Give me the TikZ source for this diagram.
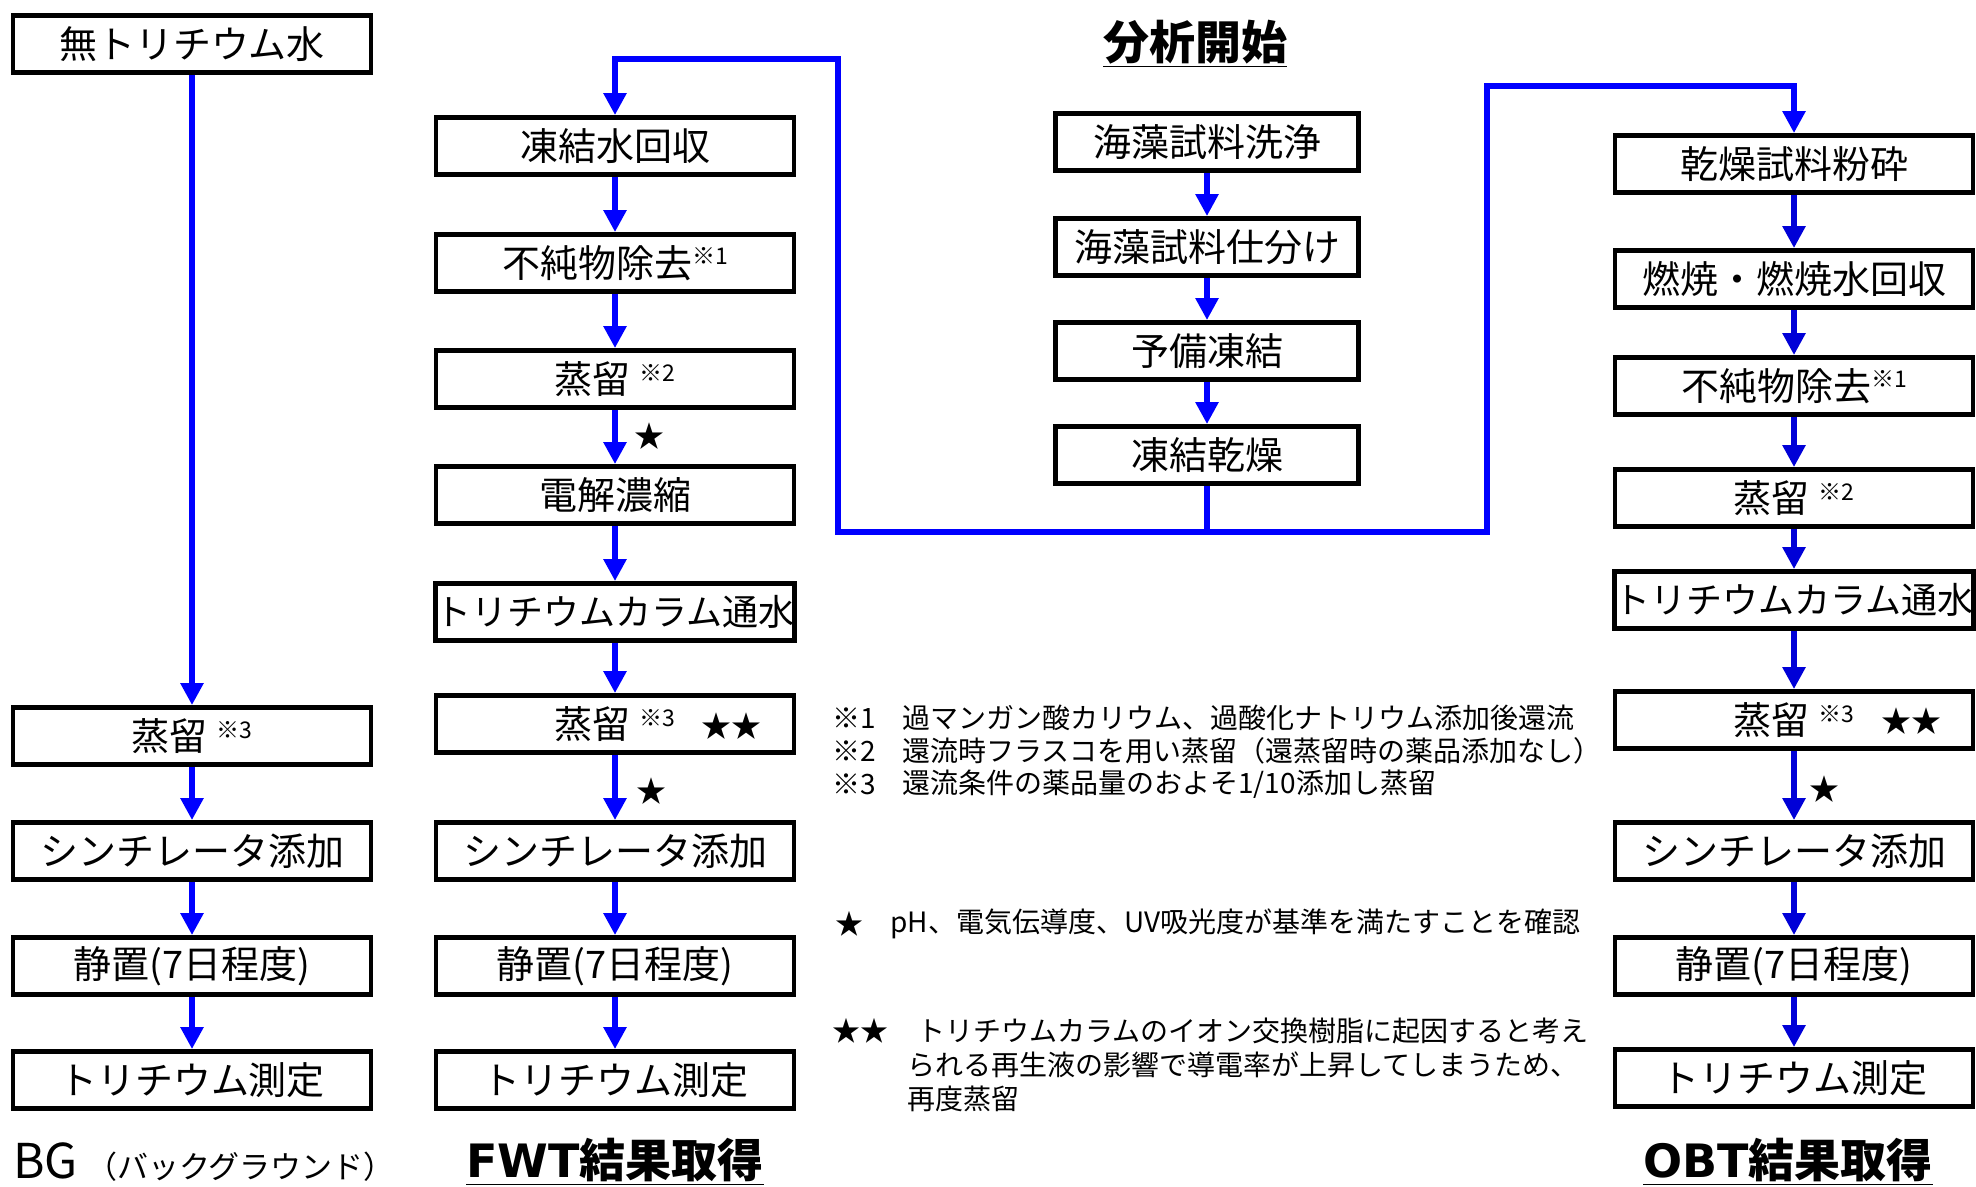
\documentclass[tikz,border=0pt]{standalone}
\usepackage{fontspec}
\setmainfont{Noto Sans CJK JP}
\newfontfamily\verd{DejaVu Sans}
\usetikzlibrary{arrows.meta}
\definecolor{flowblue}{RGB}{0,0,255}
\definecolor{obtblue}{RGB}{0,0,215}
\newcommand{\kome}[1]{\raisebox{0.6ex}{\fontsize{11.5pt}{11.5pt}\selectfont ※#1}}

\begin{document}
\begin{tikzpicture}[x=0.5pt,y=-0.5pt,
	box/.style={draw=black,line width=2.4pt,fill=white,inner sep=0pt,minimum width=179pt,minimum height=28.5pt,font=\fontsize{19pt}{21pt}\selectfont},
	cbox/.style={box,minimum width=151.5pt},
	flow/.style={flowblue,line width=3pt,-{Triangle[width=11pt,length=11pt]}},
	oflow/.style={flow,obtblue},
	link/.style={flowblue,line width=3pt},
	note/.style={anchor=west,inner sep=0pt,font=\fontsize{14pt}{17pt}\selectfont},
	star/.style={inner sep=0pt,font=\fontsize{15pt}{15pt}\selectfont},
	head/.style={inner sep=0pt,font=\fontsize{23pt}{25pt}\selectfont\bfseries}]
	\useasboundingbox (0,0) rectangle (1976,1187);
	\node[box] (bgw) at (192,44) {無トリチウム水};
	\node[box] (bgdist) at (192,736) {蒸留 \kome{3}};
	\node[box] (bgscint) at (192,851) {シンチレータ添加};
	\node[box] (bgrest) at (192,966) {静置(7日程度)};
	\node[box] (bgmeas) at (192,1080) {トリチウム測定};
	\draw[flow] (bgw) -- (bgdist);
	\draw[flow] (bgdist) -- (bgscint);
	\draw[flow] (bgscint) -- (bgrest);
	\draw[flow] (bgrest) -- (bgmeas);
	\node[anchor=west,inner sep=0pt] (bglab) at (13,1162) {{\fontsize{24pt}{24pt}\selectfont BG}\hspace{4pt}{\fontsize{15.5pt}{15.5pt}\selectfont （バックグラウンド）}};

	\node[head] (start) at (1195,44) {\underline{分析開始}};
	\node[cbox] (sea1) at (1207,142) {海藻試料洗浄};
	\node[cbox] (sea2) at (1207,247) {海藻試料仕分け};
	\node[cbox] (sea3) at (1207,351) {予備凍結};
	\node[cbox] (sea4) at (1207,455) {凍結乾燥};
	\draw[flow] (sea1) -- (sea2);
	\draw[flow] (sea2) -- (sea3);
	\draw[flow] (sea3) -- (sea4);

	\node[box] (fw1) at (615,146) {凍結水回収};
	\node[box] (fw2) at (615,263) {不純物除去\kome{1}};
	\node[box] (fw3) at (615,379) {蒸留 \kome{2}};
	\node[box] (fw4) at (615,495) {電解濃縮};
	\node[box,font=\fontsize{18pt}{20pt}\selectfont] (fw5) at (615,612) {トリチウムカラム通水};
	\node[box] (fw6) at (615,724) {蒸留 \kome{3}};
	\node[box] (fw7) at (615,851) {シンチレータ添加};
	\node[box] (fw8) at (615,966) {静置(7日程度)};
	\node[box] (fw9) at (615,1080) {トリチウム測定};
	\foreach \a/\b in {fw1/fw2,fw2/fw3,fw3/fw4,fw4/fw5,fw5/fw6,fw6/fw7,fw7/fw8,fw8/fw9}
		\draw[flow] (\a) -- (\b);
	\node[star] (fwst1) at (649,436) {★};
	\node[star] (fwst2) at (651,791) {★};
	\node[star] (fwst3) at (731,726) {★★};
	\node[head] (fwlab) at (615,1162) {\underline{{\verd FWT}結果取得}};

	\node[box] (ob1) at (1794,164) {乾燥試料粉砕};
	\node[box] (ob2) at (1794,279) {燃焼・燃焼水回収};
	\node[box] (ob3) at (1794,386) {不純物除去\kome{1}};
	\node[box] (ob4) at (1794,498) {蒸留 \kome{2}};
	\node[box,font=\fontsize{18pt}{20pt}\selectfont] (ob5) at (1794,600) {トリチウムカラム通水};
	\node[box] (ob6) at (1794,720) {蒸留 \kome{3}};
	\node[box] (ob7) at (1794,851) {シンチレータ添加};
	\node[box] (ob8) at (1794,966) {静置(7日程度)};
	\node[box] (ob9) at (1794,1078) {トリチウム測定};
	\foreach \a/\b in {ob1/ob2,ob2/ob3,ob3/ob4,ob4/ob5,ob5/ob6,ob6/ob7,ob7/ob8,ob8/ob9}
		\draw[oflow] (\a) -- (\b);
	\node[star] (obst1) at (1824,789) {★};
	\node[star] (obst2) at (1911,721) {★★};
	\node[head] (oblab) at (1788,1162) {\underline{{\verd OBT}結果取得}};

	\coordinate (jc) at (1207,532);
	\coordinate (jl) at (838,532);
	\coordinate (jr) at (1487,532);
	\coordinate (tl) at (838,59);
	\coordinate (tr) at (1487,86);
	\draw[link] (sea4) -- (jc);
	\draw[flow] (jc) -- (jl) -- (tl) -| (fw1.north);
	\draw[flow] (jc) -- (jr) -- (tr) -| (ob1.north);

	\node[note] (k1) at (832,718) {※1};
	\node[note] (t1) at (902,718) {過マンガン酸カリウム、過酸化ナトリウム添加後還流};
	\node[note] (k2) at (832,751) {※2};
	\node[note] (t2) at (902,751) {還流時フラスコを用い蒸留（還蒸留時の薬品添加なし）};
	\node[note] (k3) at (832,784) {※3};
	\node[note] (t3) at (902,784) {還流条件の薬品量のおよそ1/10添加し蒸留};
	\node[note] (ks) at (835,924) {★};
	\node[note] (ts) at (890,924) {pH、電気伝導度、UV吸光度が基準を満たすことを確認};
	\node[note] (kss) at (832,1031) {★★};
	\node[note,align=left] (tss) at (907,1065) {\hspace*{5pt}トリチウムカラムのイオン交換樹脂に起因すると考え\\られる再生液の影響で導電率が上昇してしまうため、\\再度蒸留};
\end{tikzpicture}
\end{document}
